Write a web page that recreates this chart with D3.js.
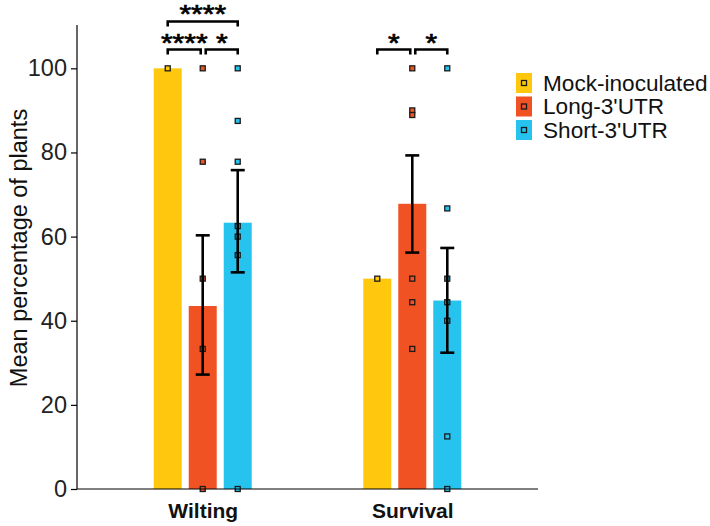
<!DOCTYPE html>
<html>
<head>
<meta charset="utf-8">
<script src="https://cdn.jsdelivr.net/npm/d3@7"></script>
<style>
  body { margin: 0; background: #fff; }
  text { font-family: "Liberation Sans", Arial, sans-serif; }
</style>
</head>
<body>
<svg id="chart" width="710" height="526"></svg>
<script>
const groups = ["Wilting", "Survival"];
const series = ["Mock-inoculated", "Long-3'UTR", "Short-3'UTR"];
const colors = ["#FFC80E", "#F05223", "#26C3EF"];

// mean, lower and upper error per group, in series order
const means = [[100, 43.5, 63.3], [50, 67.8, 44.8]];
const errLow = [[null, 27.2, 51.5], [null, 56.2, 32.4]];
const errHigh = [[null, 60.3, 75.8], [null, 79.3, 57.3]];

// individual replicate points
const pointsWilting = [[100], [100, 77.8, 50, 33.3, 0], [100, 87.5, 77.8, 62.5, 60, 55.6, 0]];
const pointsSurvival = [[50], [100, 90, 88.9, 50, 44.4, 33.3], [100, 66.7, 50, 44.4, 40, 12.5, 0]];
const points = [pointsWilting, pointsSurvival];

const yTicks = [0, 20, 40, 60, 80, 100];

// significance brackets: group, from series, to series, level, label
const sigGroup = [0, 0, 0, 1, 1];
const sigFrom = [0, 1, 0, 0, 1];
const sigTo = [1, 2, 2, 1, 2];
const sigLevel = [0, 0, 1, 0, 0];
const sigLabel = ["****", "*", "****", "*", "*"];

const svg = d3.select("#chart");
const mLeft = 77, mRight = 538, mTop = 25, mBottom = 489;

const x = d3.scalePoint().domain(groups).range([mLeft, mRight]).padding(0.6);
const xs = d3.scaleBand().domain(series).range([-52.5, 52.5]).paddingInner(0.2).paddingOuter(0.1);
const y = d3.scaleLinear().domain([0, 110.3]).range([mBottom, mTop]);
const color = d3.scaleOrdinal().domain(series).range(colors);

const cx = (gi, si) => x(groups[gi]) + xs(series[si]) + xs.bandwidth() / 2;

// bars
groups.forEach((g, gi) => {
	svg.append("g").selectAll("rect")
		.data(series)
		.enter().append("rect")
		.attr("x", (s) => x(g) + xs(s))
		.attr("width", xs.bandwidth())
		.attr("y", (s, si) => y(means[gi][si]))
		.attr("height", (s, si) => y(0) - y(means[gi][si]))
		.attr("fill", (s) => color(s));
});

// points
groups.forEach((g, gi) => {
	series.forEach((s, si) => {
		svg.append("g").selectAll("rect")
			.data(points[gi][si])
			.enter().append("rect")
			.attr("x", cx(gi, si) - 2.5)
			.attr("y", (d) => y(d) - 2.5)
			.attr("width", 5)
			.attr("height", 5)
			.attr("fill", color(s))
			.attr("stroke", "#1a1a1a")
			.attr("stroke-width", 1.3);
	});
});

// error bars
groups.forEach((g, gi) => {
	series.forEach((s, si) => {
		if (errLow[gi][si] == null) return;
		const c = cx(gi, si);
		const eb = svg.append("g").attr("stroke", "#000").attr("stroke-width", 2.6);
		eb.append("line").attr("x1", c).attr("x2", c)
			.attr("y1", y(errLow[gi][si])).attr("y2", y(errHigh[gi][si]));
		[errLow[gi][si], errHigh[gi][si]].forEach((v) => {
			eb.append("line").attr("x1", c - 7).attr("x2", c + 7)
				.attr("y1", y(v)).attr("y2", y(v));
		});
	});
});

// y axis
const yAxis = svg.append("g")
	.attr("transform", "translate(" + mLeft + ",0)")
	.call(d3.axisLeft(y).tickValues(yTicks).tickSize(6).tickPadding(4));
yAxis.select(".domain").attr("stroke", "#000").attr("stroke-width", 1.2).attr("d", "M0," + mTop + "V" + mBottom);
yAxis.selectAll(".tick line").attr("stroke", "#000").attr("stroke-width", 1.2);
yAxis.selectAll(".tick text").attr("fill", "#222").style("font-size", "23.5px").style("font-family", "Liberation Sans, Arial, sans-serif");

// x axis
const xAxis = svg.append("g")
	.attr("transform", "translate(0," + mBottom + ")")
	.call(d3.axisBottom(x).tickSize(0).tickPadding(14));
xAxis.select(".domain").attr("stroke", "#000").attr("stroke-width", 1.2).attr("d", "M" + mLeft + ",0H" + mRight);
xAxis.selectAll(".tick text").attr("fill", "#111").style("font-size", "21px").style("font-weight", "bold")
	.style("font-family", "Liberation Sans, Arial, sans-serif");

// axis title
svg.append("text")
	.attr("transform", "translate(19," + 248 + ") rotate(-90)")
	.attr("text-anchor", "middle")
	.attr("dy", "0.35em")
	.style("font-size", "23.5px")
	.attr("fill", "#111")
	.text("Mean percentage of plants");

// significance brackets
const brY = [49.5, 21.5];
const starY = [52, 23];
sigLabel.forEach((lab, i) => {
	const gi = sigGroup[i];
	const x1 = cx(gi, sigFrom[i]) + (sigLevel[i] === 0 && sigFrom[i] === 1 ? 3 : 0);
	const x2 = cx(gi, sigTo[i]) - (sigLevel[i] === 0 && sigTo[i] === 1 ? 2 : 0);
	const by = brY[sigLevel[i]];
	svg.append("path")
		.attr("d", "M" + x1 + "," + (by + 5) + "V" + by + "H" + x2 + "V" + (by + 5))
		.attr("fill", "none")
		.attr("stroke", "#000")
		.attr("stroke-width", 2.6);
	svg.append("text")
		.attr("transform", "translate(" + (x1 + x2) / 2 + "," + starY[sigLevel[i]] + ") scale(1.2,1)")
		.attr("text-anchor", "middle")
		.style("font-size", "25px")
		.attr("fill", "#000")
		.attr("stroke", "#000")
		.attr("stroke-width", 0.7)
		.text(lab);
});

// legend
const legend = svg.append("g").attr("transform", "translate(516,73)");
const item = legend.selectAll("g")
	.data(series)
	.enter().append("g")
	.attr("transform", (d, i) => "translate(0," + i * 23.5 + ")");
item.append("rect")
	.attr("width", 16).attr("height", 20)
	.attr("fill", (d) => color(d));
item.append("rect")
	.attr("x", 5.5).attr("y", 7.5).attr("width", 5).attr("height", 5)
	.attr("fill", (d) => color(d))
	.attr("stroke", "#1a1a1a").attr("stroke-width", 1.3);
item.append("text")
	.attr("x", 27).attr("y", 10).attr("dy", "0.35em")
	.style("font-size", "22.6px")
	.attr("fill", "#111")
	.text((d) => d);
</script>
</body>
</html>
